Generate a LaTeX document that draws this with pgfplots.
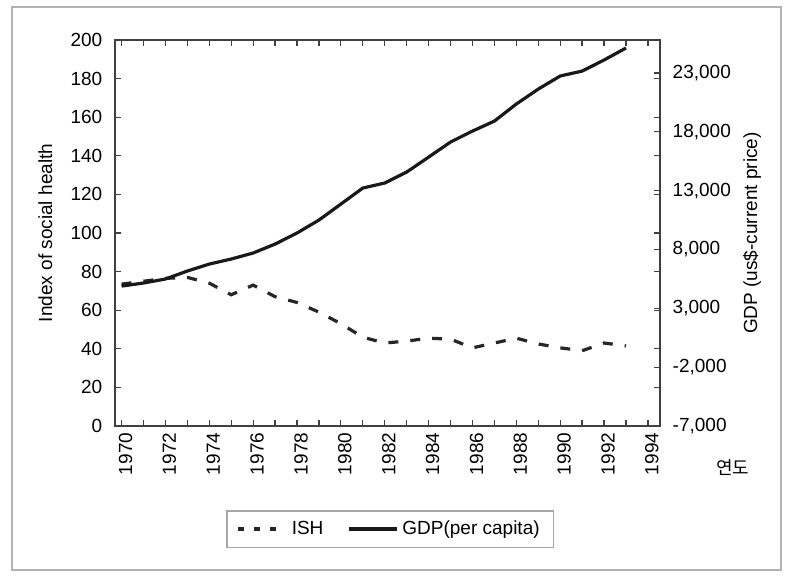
\documentclass[border=0pt]{standalone}
\usepackage{pgfplots}
\pgfplotsset{compat=1.18}
\usepackage{fontspec}
\setmainfont{Liberation Sans}
\newfontfamily\kr{Noto Sans CJK KR}
\definecolor{axgray}{gray}{0.25}
\begin{document}
\fontsize{9.5}{11}\selectfont
\begin{tikzpicture}
\useasboundingbox (-57.5pt,-74.5pt) rectangle (337pt,213pt);
\node[anchor=center, inner sep=0pt] at (309pt,-21pt) {\kr\fontsize{9}{10}\selectfont 연도};
\draw[gray!60, line width=0.8pt] (-51.5pt,-72pt) rectangle (333pt,209.5pt);
\begin{axis}[
  scale only axis,
  width=272.5pt, height=193pt,
  xmin=1969.7, xmax=1994.55,
  ymin=0, ymax=200,
  xtick={1970,1972,...,1994},
  minor xtick={1970,...,1994},
  ytick={0,20,...,200},
  x tick label style={rotate=90, anchor=east, /pgf/number format/1000 sep={}},
  xticklabel style={yshift=-2pt},
  yticklabel style={xshift=-3pt},
  /pgf/number format/assume math mode=true,
  axis line style={axgray, line width=0.9pt},
  tick style={axgray, line width=0.6pt},
  major tick length=3pt, minor tick length=3pt,
  tick align=inside,
  ylabel={Index of social health},
  ylabel style={at={(axis description cs:-0.128,0.5)}, anchor=center},
  clip=false,
]
\addplot[black!85, line width=1.6pt, dash pattern=on 5pt off 6pt] coordinates {
(1970,73.5) (1971,75) (1972,76.5) (1973,77) (1974,74) (1975,68) (1976,73) (1977,67)
(1978,64) (1979,59) (1980,53) (1981,46) (1982,43) (1983,44) (1984,45.5) (1985,45)
(1986,40.5) (1987,43) (1988,45.5) (1989,42.5) (1990,40.5) (1991,39) (1992,43) (1993,41.5)};
\end{axis}
\begin{axis}[
  scale only axis,
  width=272.5pt, height=193pt,
  xmin=1969.7, xmax=1994.55,
  ymin=-7000, ymax=25800,
  axis x line=none,
  axis y line*=right,
  ytick={-7000,-2000,3000,8000,13000,18000,23000},
  yticklabel style={xshift=3pt, /pgf/number format/1000 sep={,}},
  /pgf/number format/assume math mode=true,
  scaled y ticks=false,
  axis line style={axgray, line width=0.9pt},
  tick style={axgray, line width=0.6pt},
  major tick length=3pt,
  tick align=inside,
  ylabel={GDP (us\$-current price)},
  ylabel style={at={(axis description cs:1.169,0.5)}, anchor=center, rotate=0},
  legend columns=2,
  legend style={at={(axis description cs:0.505,-0.267)}, anchor=center,
    draw=gray!70, line width=0.8pt, inner xsep=5pt, inner ysep=3pt,
    /tikz/every even column/.append style={column sep=10pt}},
  legend image post style={xscale=1.4},
]
\addlegendimage{black!85, line width=1.6pt, dash pattern=on 3pt off 5pt}
\addlegendentry{ISH}
\addplot[black!90, line width=1.6pt] coordinates {
(1970,4890) (1971,5150) (1972,5490) (1973,6170) (1974,6760) (1975,7190) (1976,7700)
(1977,8460) (1978,9400) (1979,10500) (1980,11860) (1981,13220) (1982,13650) (1983,14580)
(1984,15850) (1985,17130) (1986,18060) (1987,18910) (1988,20360) (1989,21630) (1990,22740)
(1991,23160) (1992,24100) (1993,25120)};
\addlegendentry{GDP(per capita)}
\end{axis}
\end{tikzpicture}
\end{document}
